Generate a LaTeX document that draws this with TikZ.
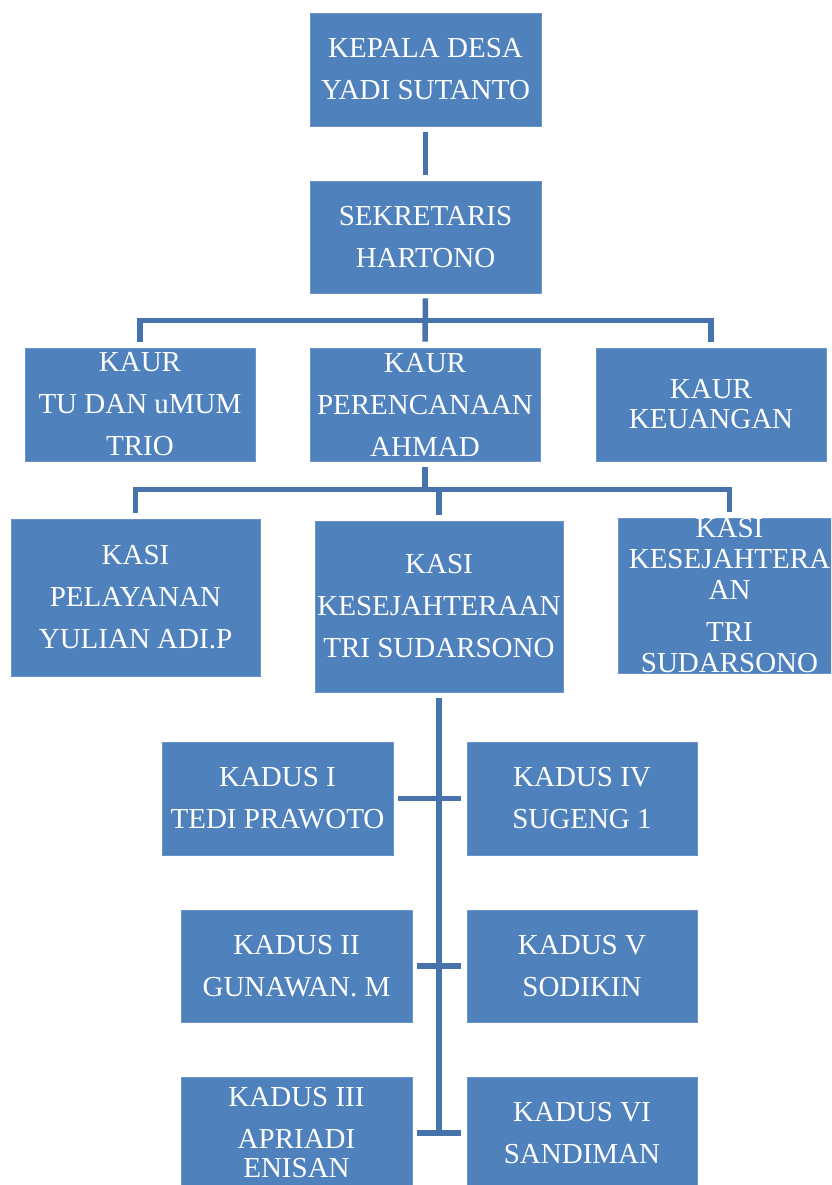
\documentclass[tikz,border=0pt]{standalone}
\usepackage{fontspec}
\setmainfont{Liberation Serif}
\definecolor{boxblue}{HTML}{4F81BD}
\definecolor{lineblue}{HTML}{4673AC}
\begin{document}
\begin{tikzpicture}[x=1pt,y=-1pt,
  box/.style={rectangle, fill=boxblue, draw=boxblue!85!white, line width=0.8pt, inner sep=0pt,
    text=white, align=center, font=\fontsize{29}{42}\selectfont},
  conn/.style={draw=lineblue, line width=5.5pt}]
\useasboundingbox (0,0) rectangle (831,1185);
\fill[white] (0,0) rectangle (831,1185);
\begin{scope}
\clip (0,0) rectangle (831,1185);
\node[box, minimum width=231, minimum height=113] (kepala) at (425.5,69.5) {KEPALA DESA\\YADI SUTANTO};
\node[box, minimum width=231, minimum height=112] (sek) at (425.5,237) {SEKRETARIS\\HARTONO};
\node[box, minimum width=230, minimum height=113] (kaur1) at (140,404.5) {KAUR\\TU DAN uMUM\\TRIO};
\node[box, minimum width=230, minimum height=113] (kaur2) at (425,404.5) {KAUR\\PERENCANAAN\\AHMAD};
\node[box, minimum width=230, minimum height=113] (kaur3) at (711,404.5) {KAUR\\[-12pt]KEUANGAN};
\node[box, minimum width=249, minimum height=157] (kasi1) at (135.5,597.5) {KASI\\PELAYANAN\\YULIAN ADI.P};
\node[box, minimum width=248, minimum height=171] (kasi2) at (439,606.5) {KASI\\KESEJAHTERAAN\\TRI SUDARSONO};
\node[box, minimum width=223, minimum height=154] (kasi3) at (729.5,596) {KASI\\[-11pt]KESEJAHTERA\\[-11pt]AN\\TRI\\[-11pt]SUDARSONO};
\node[box, minimum width=231, minimum height=113] (kadus1) at (277.5,798.5) {KADUS I\\TEDI PRAWOTO};
\node[box, minimum width=230, minimum height=113] (kadus4) at (582,798.5) {KADUS IV\\SUGENG 1};
\node[box, minimum width=231, minimum height=112] (kadus2) at (296.5,966) {KADUS II\\GUNAWAN. M};
\node[box, minimum width=230, minimum height=112] (kadus5) at (582,966) {KADUS V\\SODIKIN};
\node[box, minimum width=231, minimum height=112] (kadus3) at (296.5,1133) {KADUS III\\APRIADI\\[-13pt]ENISAN};
\node[box, minimum width=230, minimum height=112] (kadus6) at (582,1133) {KADUS VI\\SANDIMAN};
\end{scope}
% connectors
\draw[conn, shorten <=6pt, shorten >=6pt] (kepala) -- (sek);
\draw[conn] ([yshift=-5pt]sek.south) -- ([yshift=6pt]kaur2.north);
\draw[conn] ([yshift=6pt]kaur1.north) -- ++(0,-21) -| ([yshift=6pt]kaur3.north);
\draw[conn] ([yshift=-6pt]kaur2.south) -- ++(0,23);
\draw[conn] ([yshift=6pt]kasi1.north) -- ++(0,-23) -| ([yshift=6pt]kasi3.north);
\draw[conn] ([yshift=6pt]kasi2.north) -- ++(0,-25);
\draw[conn] ([yshift=-6pt]kasi2.south) -- (kasi2.south |- kadus3.west);
\draw[conn] ([xshift=5pt]kadus1.east) -- ([xshift=-6pt]kadus4.west);
\draw[conn] ([xshift=5pt]kadus2.east) -- ([xshift=-6pt]kadus5.west);
\draw[conn] ([xshift=5pt]kadus3.east) -- ([xshift=-6pt]kadus6.west);
\end{tikzpicture}
\end{document}
